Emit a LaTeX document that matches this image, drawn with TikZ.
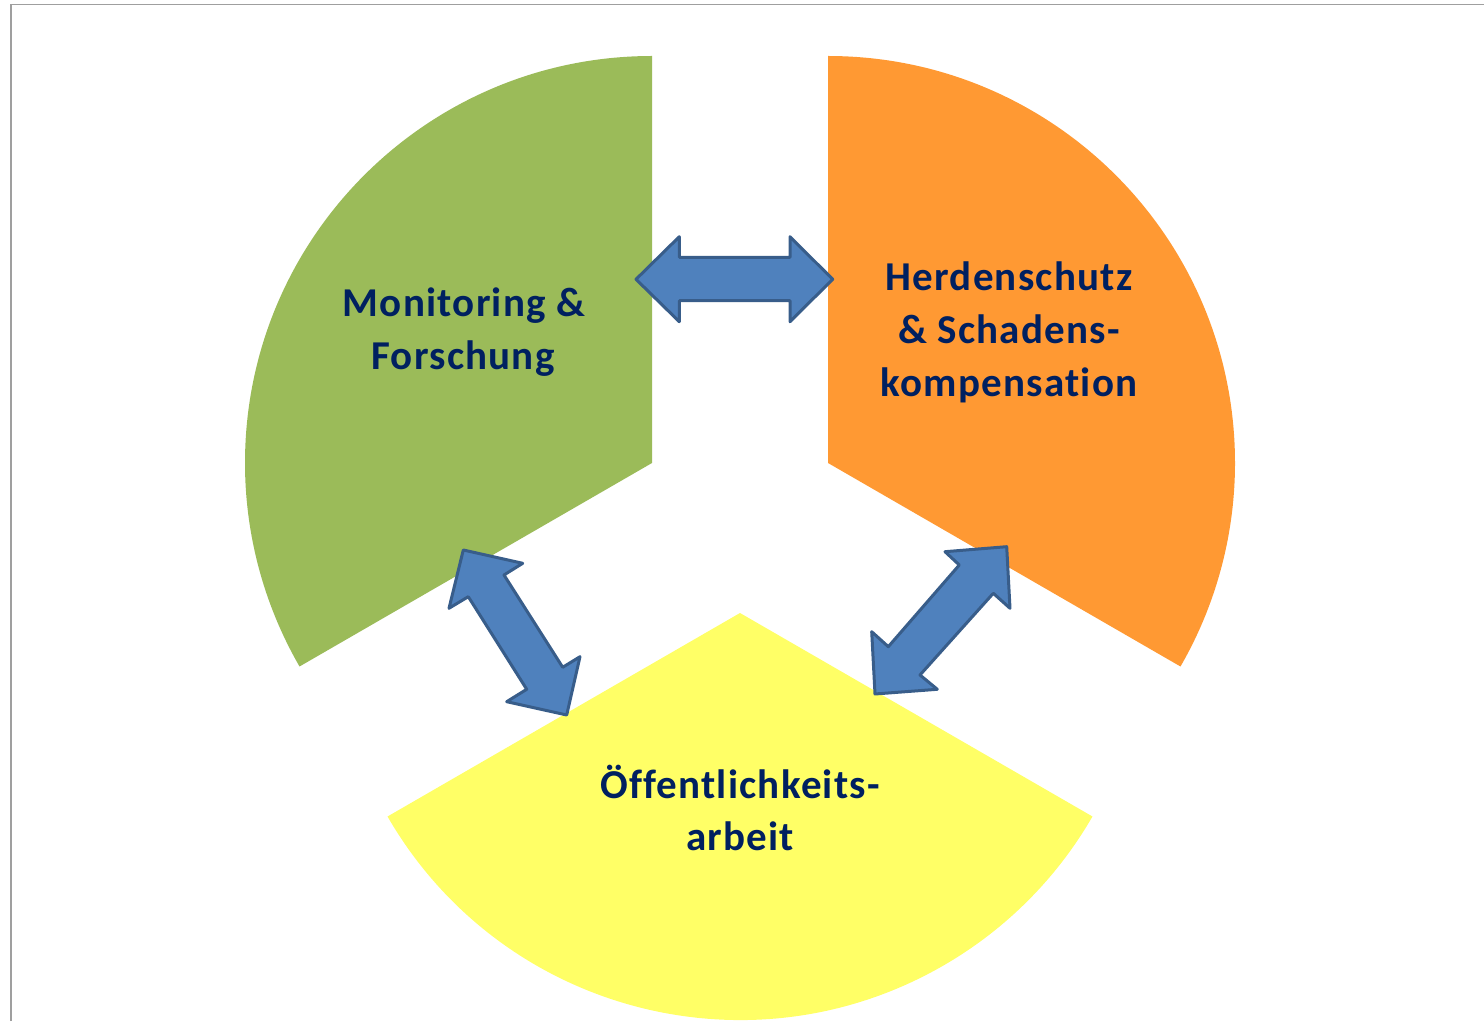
\documentclass[tikz,border=0pt]{standalone}
\usepackage{fontspec}
\setmainfont{Carlito}[Ligatures=NoCommon,LetterSpace=3]
\definecolor{gfill}{HTML}{9BBB59}
\definecolor{ofill}{HTML}{FF9933}
\definecolor{yfill}{HTML}{FFFF66}
\definecolor{afill}{HTML}{4F81BD}
\definecolor{aline}{HTML}{385D8A}
\definecolor{txt}{RGB}{0,32,96}
\definecolor{frame}{HTML}{9F9F9F}
\tikzset{
  sector/.style={draw=none},
  dblarrow/.style={fill=afill,draw=aline,line width=3pt,line join=round},
  lbl/.style={anchor=base,inner sep=0pt,text=txt,font=\fontsize{41}{53}\selectfont\bfseries}
}
\begin{document}
\begin{tikzpicture}[x=1pt,y=1pt]
\useasboundingbox (0,0) rectangle (1484,1021);
% frame
\draw[frame,line width=1.6pt] (11,0) -- (11,1016.5) -- (1484,1016.5);
% sectors
\fill[gfill] (652,558) -- (652,965) arc[start angle=90,end angle=210,radius=407] -- cycle;
\fill[ofill] (828,558) -- (828,965) arc[start angle=90,end angle=-30,radius=407] -- cycle;
\fill[yfill] (740,408) -- ++(210:407) arc[start angle=210,end angle=330,radius=407] -- cycle;
% arrows
\draw[dblarrow] (636,741.7) -- (679.3,784.3) -- (679.3,763.7) -- (790,763.7) -- (790,784.3) -- (832.7,741.7) -- (790,699.3) -- (790,720.3) -- (679.3,720.3) -- (679.3,699.3) -- cycle;
\draw[dblarrow] (463.3,471) -- (522.7,457.7) -- (504,446) -- (562.7,353.7) -- (580,364.3) -- (566.7,306) -- (506.7,319.3) -- (526.7,331.7) -- (468.3,424.3) -- (449,412.7) -- cycle;
\draw[dblarrow] (1006.7,474.3) -- (945,469.3) -- (959.3,456) -- (888.3,374.3) -- (871.7,389.3) -- (875,327) -- (937.3,331.7) -- (920,346) -- (993.3,427.7) -- (1010,412.7) -- cycle;
% labels
\node[lbl] (mon1) at (464,704.3) {Monitoring \&};
\node[lbl] (mon2) at (463,651) {Forschung};
\node[lbl] (her1) at (1009,730.3) {Herdenschutz};
\node[lbl] (her2) at (1009,677) {\& Schadens-};
\node[lbl] (her3) at (1009,624.3) {kompensation};
\node[lbl] (oef1) at (740,222.7) {Öffentlichkeits-};
\node[lbl] (oef2) at (740,171) {arbeit};
\end{tikzpicture}
\end{document}
